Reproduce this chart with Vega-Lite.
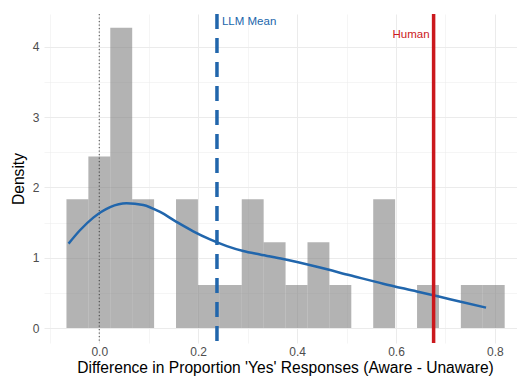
{
  "$schema": "https://vega.github.io/schema/vega-lite/v6.json",
  "width": 473,
  "height": 329,
  "autosize": {"type": "none"},
  "padding": {"left": 44, "top": 14, "right": 0, "bottom": 33},
  "background": "white",
  "config": {
    "view": {"stroke": null},
    "font": "Liberation Sans",
    "axis": {
      "domain": false,
      "ticks": false,
      "gridColor": "#EBEBEB",
      "labelColor": "#4D4D4D",
      "labelFontSize": 12,
      "titleFontSize": 15.6,
      "titleFontWeight": "normal",
      "titleColor": "#000000"
    }
  },
  "datasets": {
    "bins": [
      {"x0": -0.0663, "x1": -0.0220, "density": 1.83},
      {"x0": -0.0220, "x1": 0.0223, "density": 2.44},
      {"x0": 0.0223, "x1": 0.0666, "density": 4.27},
      {"x0": 0.0666, "x1": 0.1109, "density": 1.83},
      {"x0": 0.1109, "x1": 0.1552, "density": 0},
      {"x0": 0.1552, "x1": 0.1995, "density": 1.83},
      {"x0": 0.1995, "x1": 0.2438, "density": 0.61},
      {"x0": 0.2438, "x1": 0.2881, "density": 0.61},
      {"x0": 0.2881, "x1": 0.3324, "density": 1.83},
      {"x0": 0.3324, "x1": 0.3767, "density": 1.22},
      {"x0": 0.3767, "x1": 0.4210, "density": 0.61},
      {"x0": 0.4210, "x1": 0.4653, "density": 1.22},
      {"x0": 0.4653, "x1": 0.5096, "density": 0.61},
      {"x0": 0.5096, "x1": 0.5539, "density": 0},
      {"x0": 0.5539, "x1": 0.5982, "density": 1.83},
      {"x0": 0.5982, "x1": 0.6425, "density": 0},
      {"x0": 0.6425, "x1": 0.6868, "density": 0.61},
      {"x0": 0.6868, "x1": 0.7311, "density": 0},
      {"x0": 0.7311, "x1": 0.7754, "density": 0.61},
      {"x0": 0.7754, "x1": 0.8197, "density": 0.61}
    ],
    "kde": [
      {"x": -0.062, "d": 1.20},
      {"x": -0.039, "d": 1.39},
      {"x": -0.012, "d": 1.57},
      {"x": 0.022, "d": 1.72},
      {"x": 0.055, "d": 1.775},
      {"x": 0.089, "d": 1.75},
      {"x": 0.123, "d": 1.65},
      {"x": 0.156, "d": 1.51},
      {"x": 0.190, "d": 1.375},
      {"x": 0.224, "d": 1.26},
      {"x": 0.258, "d": 1.165},
      {"x": 0.291, "d": 1.095},
      {"x": 0.325, "d": 1.045},
      {"x": 0.372, "d": 0.98},
      {"x": 0.44, "d": 0.87},
      {"x": 0.507, "d": 0.75},
      {"x": 0.574, "d": 0.63},
      {"x": 0.642, "d": 0.52},
      {"x": 0.709, "d": 0.41},
      {"x": 0.782, "d": 0.29}
    ],
    "refs": [
      {"x": 0.238, "label": "LLM Mean", "y": 4.355},
      {"x": 0.676, "label": "Human", "y": 4.166}
    ]
  },
  "layer": [
    {
      "data": {"name": "bins"},
      "mark": {"type": "rect", "color": "#808080", "opacity": 0.6},
      "encoding": {
        "x": {
          "field": "x0",
          "type": "quantitative",
          "scale": {"domain": [-0.1117, 0.8446], "nice": false, "zero": false},
          "axis": {
            "title": "Difference in Proportion 'Yes' Responses (Aware - Unaware)",
            "values": [-0.1, 0, 0.1, 0.2, 0.3, 0.4, 0.5, 0.6, 0.7, 0.8],
            "labelExpr": "round(datum.value*10) % 2 == 0 ? format(datum.value, '.1f') : ''",
            "gridWidth": {"condition": {"test": "round(datum.value*10) % 2 != 0", "value": 0.5}, "value": 1},
            "labelPadding": 3,
            "titlePadding": 3,
            "titleX": 241
          }
        },
        "x2": {"field": "x1"},
        "y": {
          "field": "density",
          "type": "quantitative",
          "scale": {"domain": [-0.213, 4.465], "nice": false, "zero": false},
          "axis": {
            "title": "Density",
            "values": [0, 0.5, 1, 1.5, 2, 2.5, 3, 3.5, 4],
            "labelExpr": "datum.value % 1 == 0 ? datum.value : ''",
            "gridWidth": {"condition": {"test": "datum.value % 1 != 0", "value": 0.5}, "value": 1},
            "labelPadding": 5,
            "titlePadding": 6
          }
        },
        "y2": {"datum": 0}
      }
    },
    {
      "data": {"values": [{"x": 0}]},
      "mark": {"type": "rule", "color": "#333333", "strokeWidth": 0.9, "strokeDash": [1.2, 2.3]},
      "encoding": {"x": {"field": "x", "type": "quantitative"}}
    },
    {
      "data": {"name": "kde"},
      "mark": {"type": "line", "color": "#2166AC", "strokeWidth": 2.5, "interpolate": "monotone"},
      "encoding": {
        "x": {"field": "x", "type": "quantitative"},
        "y": {"field": "d", "type": "quantitative"}
      }
    },
    {
      "data": {"name": "refs"},
      "transform": [{"filter": "datum.label == 'LLM Mean'"}],
      "mark": {"type": "rule", "color": "#2166AC", "strokeWidth": 3.5, "strokeDash": [15, 9]},
      "encoding": {"x": {"field": "x", "type": "quantitative"}}
    },
    {
      "data": {"name": "refs"},
      "transform": [{"filter": "datum.label == 'Human'"}],
      "mark": {"type": "rule", "color": "#CB181D", "strokeWidth": 3.5},
      "encoding": {"x": {"field": "x", "type": "quantitative"}}
    },
    {
      "data": {"name": "refs"},
      "transform": [{"filter": "datum.label == 'LLM Mean'"}],
      "mark": {"type": "text", "color": "#2166AC", "fontSize": 11.5, "align": "left", "baseline": "middle", "dx": 5},
      "encoding": {
        "x": {"field": "x", "type": "quantitative"},
        "y": {"field": "y", "type": "quantitative"},
        "text": {"field": "label"}
      }
    },
    {
      "data": {"name": "refs"},
      "transform": [{"filter": "datum.label == 'Human'"}],
      "mark": {"type": "text", "color": "#CB181D", "fontSize": 11.5, "align": "right", "baseline": "middle", "dx": -4},
      "encoding": {
        "x": {"field": "x", "type": "quantitative"},
        "y": {"field": "y", "type": "quantitative"},
        "text": {"field": "label"}
      }
    }
  ]
}
